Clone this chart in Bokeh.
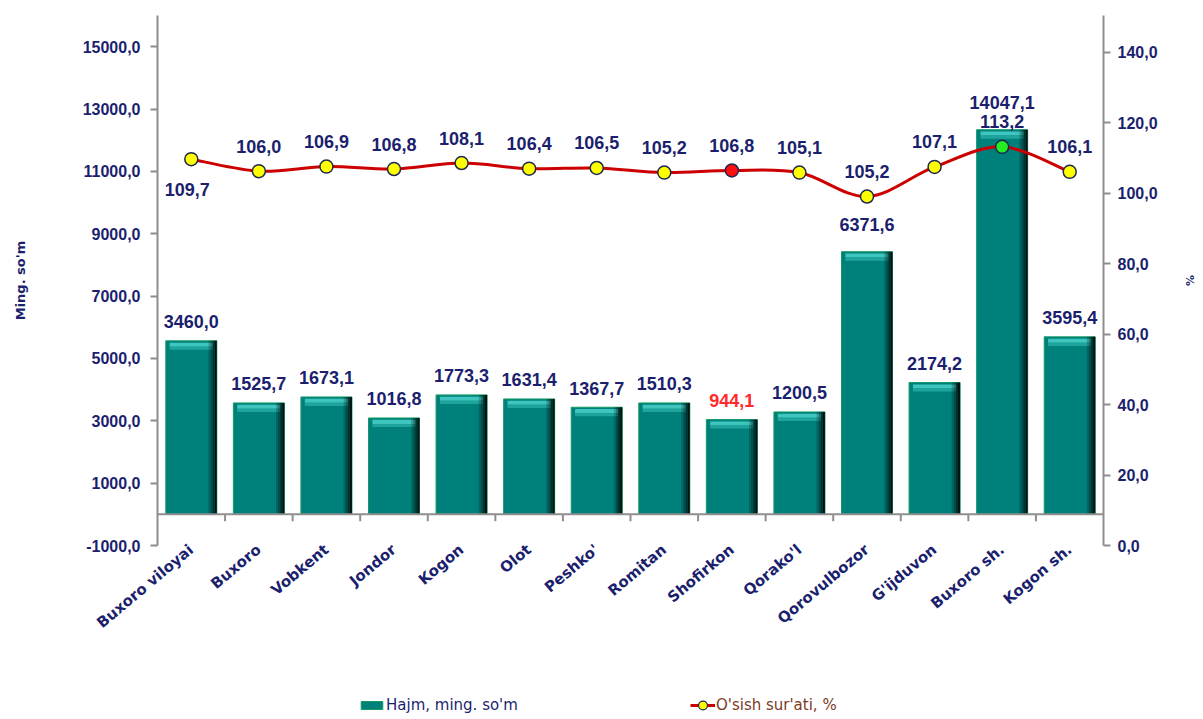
import numpy as np
from bokeh.plotting import figure
from bokeh.layouts import column
from bokeh.models import (Range1d, LinearAxis, FixedTicker, ColumnDataSource, LabelSet,
                          Span, Legend, LegendItem)
from bokeh.transform import dodge
from bokeh.core.properties import value
from bokeh.embed import file_html
from bokeh.resources import INLINE

# ---------------- data ----------------
regions = ["Buxoro viloyai", "Buxoro", "Vobkent", "Jondor", "Kogon", "Olot", "Peshko'",
           "Romitan", "Shofirkon", "Qorako'l", "Qorovulbozor", "G'ijduvon", "Buxoro sh.", "Kogon sh."]
# printed values of the bars (Hajm, ming. so'm)
hajm_labels = [3460.0, 1525.7, 1673.1, 1016.8, 1773.3, 1631.4, 1367.7,
               1510.3, 944.1, 1200.5, 6371.6, 2174.2, 14047.1, 3595.4]
# bar heights as drawn against the left axis
hajm_bars = [5565, 3573, 3765, 3091, 3830, 3701, 3435,
             3573, 3039, 3284, 8424, 4228, 12337, 5693]
# printed values of the line (O'sish sur'ati, %)
osish_labels = [109.7, 106.0, 106.9, 106.8, 108.1, 106.4, 106.5,
                105.2, 106.8, 105.1, 105.2, 107.1, 113.2, 106.1]
# line points as drawn against the right axis
osish_points = [109.7, 106.3, 107.6, 106.9, 108.6, 107.0, 107.2,
                105.9, 106.5, 105.9, 99.1, 107.5, 113.2, 106.1]
left_ticks = [-1000, 1000, 3000, 5000, 7000, 9000, 11000, 13000, 15000]
right_ticks = [0, 20, 40, 60, 80, 100, 120, 140]

# ---------------- styling ----------------
NAVY = "#1b1f6e"
GRAY = "#8e8e8e"
TEAL = "#00807a"
NUMFONT = "Liberation Sans"
CATFONT = "DejaVu Sans"

def fmt(v):
    return f"{v:.1f}".replace(".", ",")

n = len(regions)
xs = np.arange(n) + 0.5
h = np.array(hajm_bars, dtype=float)

bar_src = ColumnDataSource(dict(
    x=xs, h=h, hl_top=h - 60, hl_mid=h - 190, hl_bot=h - 290,
    hlab=[fmt(v) for v in hajm_labels],
    hcol=["#ff2a2a" if r == "Shofirkon" else NAVY for r in regions],
    hoff=[27 if r in ("Qorovulbozor", "Buxoro sh.") else 19 for r in regions],
))

pts = np.array(osish_points, dtype=float)
first = [i == 0 for i in range(n)]
line_src = ColumnDataSource(dict(
    x=xs, pts=pts,
    olab=[fmt(v) for v in osish_labels],
    oyoff=[-30 if f else 25 for f in first],
    oxoff=[-4 if f else 0 for f in first],
    mcol=["#ff1010" if r == "Shofirkon" else ("#22ee22" if r == "Buxoro sh." else "#ffff00")
          for r in regions],
))

# smooth curve (Catmull-Rom -> cubic Bezier) through the line points
P = np.column_stack([xs, pts])
Pm = np.vstack([P[0], P, P[-1]])
c0 = P[:-1] + (Pm[2:-1] - Pm[0:-3]) / 6.0
c1 = P[1:] - (Pm[3:] - Pm[1:-2]) / 6.0
bez_src = ColumnDataSource(dict(
    x0=P[:-1, 0], y0=P[:-1, 1], x1=P[1:, 0], y1=P[1:, 1],
    cx0=c0[:, 0], cy0=c0[:, 1], cx1=c1[:, 0], cy1=c1[:, 1],
))

p = figure(width=1200, height=680, x_range=Range1d(0, n), y_range=Range1d(-1000, 16000),
           output_backend="svg", toolbar_location=None,
           min_border_left=157, min_border_right=97, min_border_top=15, min_border_bottom=135)
p.extra_y_ranges = {"right": Range1d(0, 150.5)}
p.grid.visible = False
p.outline_line_color = None
p.background_fill_color = "white"
p.border_fill_color = "white"

# bottom axis: category names only
xa = p.xaxis[0]
xa.ticker = FixedTicker(ticks=list(xs))
xa.major_label_overrides = {float(x): r for x, r in zip(xs, regions)}
xa.axis_line_color = None
xa.major_tick_line_color = None
xa.minor_tick_line_color = None
xa.major_label_orientation = 40 * np.pi / 180
xa.major_label_standoff = -4
xa.major_label_text_font = CATFONT
xa.major_label_text_font_style = "bold"
xa.major_label_text_font_size = "15px"
xa.major_label_text_color = NAVY

# left axis
ya = p.yaxis[0]
ya.ticker = FixedTicker(ticks=left_ticks)
ya.major_label_overrides = {t: fmt(t) for t in left_ticks}
ya.minor_tick_line_color = None
ya.major_tick_out = 7
ya.major_tick_in = 0
ya.major_tick_line_color = GRAY
ya.major_tick_line_width = 2
ya.axis_line_color = GRAY
ya.axis_line_width = 2
ya.major_label_standoff = 10
ya.major_label_text_font = NUMFONT
ya.major_label_text_font_style = "bold"
ya.major_label_text_font_size = "16px"
ya.major_label_text_color = NAVY
ya.axis_label = "Ming. so'm"
ya.axis_label_standoff = 52
ya.axis_label_text_font = CATFONT
ya.axis_label_text_font_style = "bold"
ya.axis_label_text_font_size = "13px"
ya.axis_label_text_color = NAVY

# right axis
ra = LinearAxis(y_range_name="right")
ra.ticker = FixedTicker(ticks=right_ticks)
ra.major_label_overrides = {t: fmt(t) for t in right_ticks}
ra.minor_tick_line_color = None
ra.major_tick_out = 7
ra.major_tick_in = 0
ra.major_tick_line_color = GRAY
ra.major_tick_line_width = 2
ra.axis_line_color = GRAY
ra.axis_line_width = 2
ra.major_label_standoff = 7
ra.major_label_text_font = NUMFONT
ra.major_label_text_font_style = "bold"
ra.major_label_text_font_size = "16px"
ra.major_label_text_color = NAVY
ra.axis_label = "%"
ra.axis_label_standoff = 22
ra.axis_label_text_font = CATFONT
ra.axis_label_text_font_style = "bold"
ra.axis_label_text_font_size = "11px"
ra.axis_label_text_color = NAVY
p.add_layout(ra, "right")

# bars with a bevel look
BAR_STYLE = dict(fill_color=TEAL, line_color="#159a66", line_width=1)
p.vbar(x="x", top="h", bottom=0, width=0.755, source=bar_src, **BAR_STYLE)
p.vbar(x="x", top="hl_top", bottom="hl_mid", width=0.64, source=bar_src,
       fill_color="#3ec6be", line_color=None)
p.vbar(x="x", top="hl_mid", bottom="hl_bot", width=0.64, source=bar_src,
       fill_color="#1fa49c", line_color=None)
for k, a in enumerate([0.85, 0.62, 0.4, 0.2]):
    p.vbar(x=dodge("x", 0.3775 - 0.0155 - 0.031 * k), top="h", bottom=0, width=0.031,
           source=bar_src, fill_color="black", fill_alpha=a, line_color=None)

# category baseline and tick marks between categories
p.add_layout(Span(location=0, dimension="width", line_color=GRAY, line_width=2))
p.ray(x=np.arange(1, n), y=0, length=7, length_units="screen", angle=-90, angle_units="deg",
      line_color=GRAY, line_width=2)

# growth line
LINE_STYLE = dict(line_color="#cc0000", line_width=3)
p.bezier(x0="x0", y0="y0", x1="x1", y1="y1", cx0="cx0", cy0="cy0", cx1="cx1", cy1="cy1",
         source=bez_src, y_range_name="right", **LINE_STYLE)
p.scatter(x="x", y="pts", size=13, source=line_src, fill_color="mcol",
          line_color="#1e2850", line_width=1.5, y_range_name="right")

# labels
p.add_layout(LabelSet(x="x", y="h", text="hlab", source=bar_src, text_align="center",
                      text_baseline="middle", y_offset="hoff", text_color="hcol",
                      text_font=value(NUMFONT), text_font_style="bold", text_font_size="18px"))
p.add_layout(LabelSet(x="x", y="pts", text="olab", source=line_src, text_align="center",
                      text_baseline="middle", y_offset="oyoff", x_offset="oxoff",
                      y_range_name="right", text_color=NAVY,
                      text_font=value(NUMFONT), text_font_style="bold", text_font_size="18px"))

# ---------------- legend strip below the chart ----------------
lg = figure(width=1200, height=36, x_range=Range1d(0, 1), y_range=Range1d(0, 1),
            output_backend="svg", toolbar_location=None,
            x_axis_location=None, y_axis_location=None,
            min_border_left=0, min_border_right=0, min_border_top=0, min_border_bottom=0)
lg.grid.visible = False
lg.outline_line_color = None
lg.background_fill_color = "white"
lg.border_fill_color = "white"

# hidden copies of the series, used only for the legend glyphs
leg_bar = lg.vbar(x="x", top="h", width=0.755, source=bar_src, visible=False, **BAR_STYLE)
leg_line = lg.line(x="x", y="pts", source=line_src, visible=False, **LINE_STYLE)
leg_pt = lg.scatter(x="x", y="pts", source=line_src, size=9, fill_color="#ffff00",
                    line_color="#1e2850", line_width=1.2, visible=False)

LEG_COMMON = dict(orientation="horizontal", padding=0, margin=0,
                  label_standoff=1, border_line_color=None, background_fill_alpha=0,
                  inactive_fill_alpha=0, label_text_font=CATFONT, label_text_font_size="15px")
leg1 = Legend(items=[LegendItem(label="Hajm, ming. so'm", renderers=[leg_bar])],
              location=(201, 2), glyph_width=27, glyph_height=10,
              label_text_color=NAVY, **LEG_COMMON)
leg2 = Legend(items=[LegendItem(label="O'sish sur'ati, %", renderers=[leg_line, leg_pt])],
              location=(533, 0), glyph_width=25, glyph_height=22,
              label_text_color="#7b3b1f", **LEG_COMMON)
lg.add_layout(leg1)
lg.add_layout(leg2)

layout = column(p, lg, spacing=0)
open("out.html", "w").write(file_html(layout, INLINE))
